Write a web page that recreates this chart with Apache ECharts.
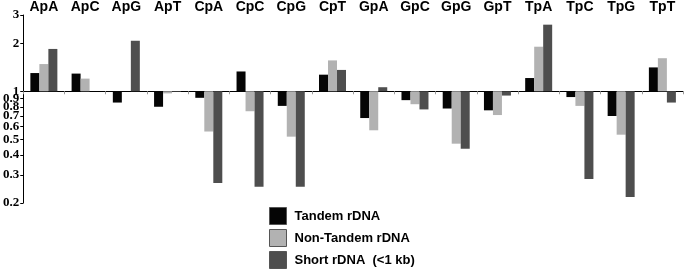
<!DOCTYPE html>
<html>
<head>
<meta charset="utf-8">
<script src="https://cdn.jsdelivr.net/npm/echarts@6/dist/echarts.min.js"></script>
<style>
html,body{margin:0;padding:0;background:#fff;}
#c{width:685px;height:269px;}
</style>
</head>
<body>
<div id="c"></div>
<script>
var categories = ['ApA','ApC','ApG','ApT','CpA','CpC','CpG','CpT','GpA','GpC','GpG','GpT','TpA','TpC','TpG','TpT'];
var tandem    = [1.30, 1.29, 0.85, 0.80, 0.91, 1.33, 0.81, 1.27, 0.68, 0.88, 0.78, 0.76, 1.21, 0.92, 0.70, 1.41];
var nonTandem = [1.48, 1.20, 1.00, 0.97, 0.56, 0.75, 0.52, 1.56, 0.57, 0.83, 0.47, 0.71, 1.90, 0.81, 0.535, 1.61];
var shortRDNA = [1.84, 1.00, 2.07, 0.99, 0.267, 0.253, 0.253, 1.36, 1.06, 0.77, 0.437, 0.94, 2.61, 0.283, 0.218, 0.85];
var yTicks = [0.2, 0.3, 0.4, 0.5, 0.6, 0.7, 0.8, 0.9, 1, 2, 3];
var seriesNames = ['Tandem rDNA', 'Non-Tandem rDNA', 'Short rDNA  (<1 kb)'];

function lg(v){ return Math.log10(v); }
var tickPos = yTicks.map(lg);

var chart = echarts.init(document.getElementById('c'), null, {renderer:'canvas'});
var colors = ['#050505', '#b2b2b2', '#4e4e4e'];
var datasets = [tandem, nonTandem, shortRDNA];

chart.setOption({
  animation: false,
  grid: {left: 23, right: 2, top: 13, bottom: 66, containLabel: false},
  legend: {
    orient: 'vertical',
    left: 269, top: 207,
    padding: 0,
    itemWidth: 17, itemHeight: 17, itemGap: 4,
    icon: 'rect',
    data: seriesNames.map(function(n, i){
      return {name: n, itemStyle: {color: colors[i], borderColor: '#555', borderWidth: 1}};
    }),
    textStyle: {fontFamily: 'Liberation Sans, Arial', fontWeight: 'bold', fontSize: 13, color: '#000', padding: [0,0,0,3]}
  },
  xAxis: [{
    type: 'category',
    data: categories,
    position: 'bottom',
    axisLine: {onZero: true, lineStyle: {color: '#000', width: 1}},
    axisTick: {show: true, length: 3, lineStyle: {color: '#999'}},
    axisLabel: {show: false}
  }, {
    type: 'category',
    data: categories,
    position: 'top',
    axisLine: {show: false},
    axisTick: {show: false},
    axisLabel: {show: true, margin: 1, fontFamily: 'Liberation Sans, Arial', fontWeight: 'bold', fontSize: 14, color: '#000', interval: 0}
  }],
  yAxis: {
    type: 'value',
    min: lg(0.2), max: lg(3),
    axisLine: {show: true, lineStyle: {color: '#000', width: 1}},
    axisTick: {show: true, length: 3, customValues: tickPos, lineStyle: {color: '#000'}},
    splitLine: {show: false},
    axisLabel: {
      customValues: tickPos,
      margin: 4,
      fontFamily: 'Liberation Serif, Times New Roman, serif',
      fontWeight: 'bold', fontSize: 13, color: '#000',
      formatter: function(v){ return String(+Math.pow(10, v).toFixed(2)); }
    }
  },
  series: datasets.map(function(d, i){
    return {
      name: seriesNames[i],
      type: 'bar',
      xAxisIndex: 0,
      barWidth: 9,
      barGap: '0%',
      itemStyle: {color: colors[i]},
      data: d.map(lg)
    };
  })
});
</script>
</body>
</html>
